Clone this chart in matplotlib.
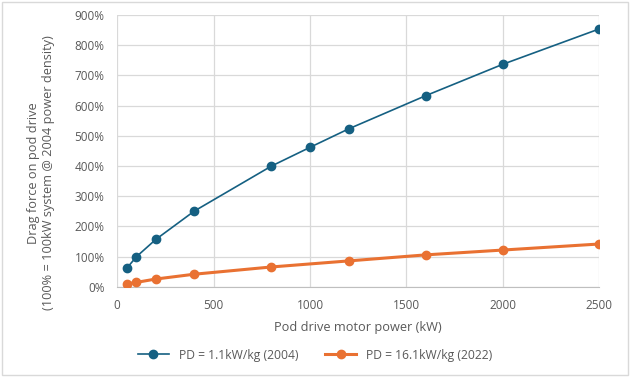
import matplotlib.pyplot as plt
from matplotlib.ticker import PercentFormatter

# data
power_2004 = [50, 100, 200, 400, 800, 1000, 1200, 1600, 2000, 2500]
drag_2004 = [62, 100, 157, 251, 400, 462, 523, 633, 737, 854]
power_2022 = [50, 100, 200, 400, 800, 1200, 1600, 2000, 2500]
drag_2022 = [10, 15, 26, 42, 66, 86, 106, 122, 142]

blue = '#156082'
orange = '#E97132'
grey = '#595959'

plt.rcParams['font.family'] = ['Open Sans', 'DejaVu Sans']

fig = plt.figure(figsize=(6.3, 3.77), dpi=100)
ax = fig.add_axes([0.186, 0.239, 0.765, 0.721])

ax.plot(power_2004, drag_2004, color=blue, lw=1.2, marker='o', ms=6,
        label='PD = 1.1kW/kg (2004)', zorder=3)
ax.plot(power_2022, drag_2022, color=orange, lw=2.2, marker='o', ms=6,
        label='PD = 16.1kW/kg (2022)', zorder=3)

ax.set_xlim(0, 2500)
ax.set_ylim(0, 900)
ax.set_xticks(range(0, 2501, 500))
ax.set_yticks(range(0, 901, 100))
ax.yaxis.set_major_formatter(PercentFormatter(decimals=0))
ax.grid(True, color='#d9d9d9', lw=0.9)
ax.set_axisbelow(True)
for s in ax.spines.values():
    s.set_visible(False)
ax.spines['bottom'].set_visible(True)
ax.spines['bottom'].set_color('#bfbfbf')
ax.tick_params(length=0, labelsize=8.5, labelcolor=grey, pad=9)

ax.set_xlabel('Pod drive motor power (kW)', fontsize=9.2, color=grey, labelpad=6)
ax.set_ylabel('Drag force on pod drive\n(100% = 100kW system @ 2004 power density)',
              fontsize=9.2, color=grey, labelpad=14)
ax.yaxis.label.set_y(0.42)

fig.legend(loc='center', bbox_to_anchor=(0.5, 0.058), ncol=2, frameon=False,
           fontsize=8.7, labelcolor=grey, handlelength=2.6, columnspacing=2.2)

fig.patches.append(plt.Rectangle((0.003, 0.005), 0.994, 0.99, transform=fig.transFigure,
                                 fill=False, ec='#d9d9d9', lw=1))

fig.savefig('out.png', dpi=100)
